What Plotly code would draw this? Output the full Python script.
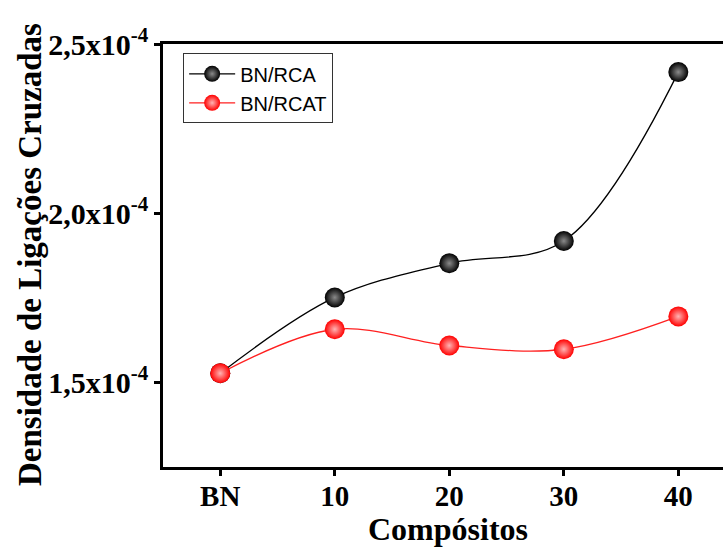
import plotly.graph_objects as go

categories = ["BN", "10", "20", "30", "40"]
bn_rca = [1.527e-4, 1.751e-4, 1.852e-4, 1.918e-4, 2.417e-4]
bn_rcat = [1.527e-4, 1.657e-4, 1.609e-4, 1.598e-4, 1.695e-4]
y_tickvals = [1.5e-4, 2.0e-4, 2.5e-4]
y_ticktext = ["1,5x10<sup>-4</sup>", "2,0x10<sup>-4</sup>", "2,5x10<sup>-4</sup>"]

serif = "Liberation Serif"

fig = go.Figure()
fig.add_trace(go.Scatter(
    x=categories, y=bn_rca, name="BN/RCA", mode="lines+markers",
    line=dict(color="black", width=1.3, shape="spline", smoothing=1.0),
    marker=dict(size=20, color="black", line=dict(width=0),
                gradient=dict(type="radial", color="#8a8a8a")),
))
fig.add_trace(go.Scatter(
    x=categories, y=bn_rcat, name="BN/RCAT", mode="lines+markers",
    line=dict(color="#ff2020", width=1.3, shape="spline", smoothing=1.0),
    marker=dict(size=20, color="#ff0000", line=dict(width=0),
                gradient=dict(type="radial", color="#ffb4b4")),
))

fig.update_layout(
    width=723, height=547,
    margin=dict(l=163, r=0, t=44, b=80),
    paper_bgcolor="white", plot_bgcolor="white",
    showlegend=True,
    legend=dict(x=0.036, y=0.978, xanchor="left", yanchor="top",
                bordercolor="#333", borderwidth=1, bgcolor="white",
                font=dict(family="Liberation Sans", size=20, color="black"),
                tracegroupgap=0, itemwidth=46),
    xaxis=dict(type="category", range=[-0.5, 4.39],
               showline=True, linecolor="black", linewidth=2.7, mirror=True,
               ticks="outside", ticklen=6, tickwidth=2.5, tickcolor="black",
               showgrid=False, zeroline=False, ticklabelstandoff=-5,
               tickfont=dict(family=serif, size=29, weight="bold", color="black")),
    yaxis=dict(range=[1.25e-4, 2.5e-4],
               tickvals=y_tickvals, ticktext=y_ticktext,
               showline=True, linecolor="black", linewidth=2.7, mirror=False,
               ticks="outside", ticklen=6, tickwidth=2.5, tickcolor="black",
               showgrid=False, zeroline=False,
               tickfont=dict(family=serif, size=30, weight="bold", color="black")),
    annotations=[
        dict(text="Compósitos", xref="paper", yref="paper",
             x=(448 - 163) / 560, y=-(529 - 467) / 423, xanchor="center", yanchor="middle",
             showarrow=False, font=dict(family=serif, size=32, weight="bold", color="black")),
        dict(text="Densidade de Ligações Cruzadas", xref="paper", yref="paper",
             x=-(163 - 30) / 560, y=(467 - 255) / 423, xanchor="center", yanchor="middle",
             textangle=-90, showarrow=False,
             font=dict(family=serif, size=33, weight="bold", color="black")),
    ],
)

fig.write_html("out.html")
